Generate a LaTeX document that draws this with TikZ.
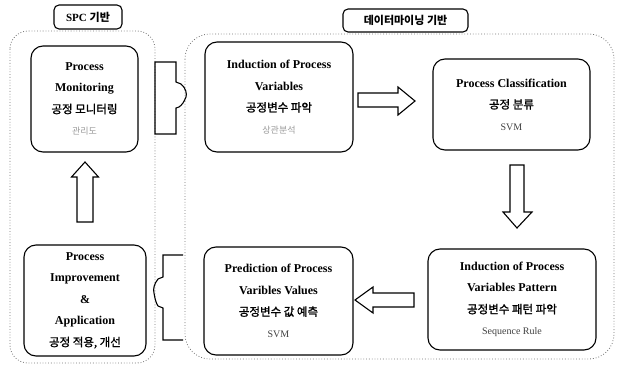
\documentclass[tikz,border=0pt]{standalone}
\usepackage{fontspec}
\setmainfont{Liberation Serif}
\newfontfamily\kr{Noto Sans CJK KR}
\newfontfamily\krb[FakeBold=1.5]{Noto Sans CJK KR}
\newcommand\ko[1]{{\krb\mdseries\fontsize{11.5}{22}\selectfont #1}}
\newcommand\gr[1]{{\kr\mdseries\fontsize{9}{24}\selectfont\color{black!40}#1}}
\newcommand\rg[1]{{\mdseries\fontsize{10}{22}\selectfont\color{black!75}#1}}
\begin{document}
\begin{tikzpicture}[x=1pt,y=-1pt,
  box/.style={draw=black, line width=1.1pt, rounded corners=12pt, align=center, inner sep=0pt,
    font=\fontsize{12}{21.5}\selectfont\bfseries},
  container/.style={draw=black!55, dotted, line width=0.8pt},
  tag/.style={draw=black, fill=white, rounded corners=5pt, line width=1.1pt, inner sep=0pt,
    font=\bfseries\fontsize{11}{13}\selectfont},
  blk/.style={draw=black, fill=white, line width=1.1pt, line join=miter}]
\useasboundingbox (0,0) rectangle (619,369);
% containers
\draw[container, rounded corners=18pt] (10,31) rectangle (155,363);
\draw[container, rounded corners=25pt] (185,34) rectangle (614,359);
% tags
\node[tag, minimum width=68pt, minimum height=24pt] (spc) at (88,17)
  {SPC {\kr 기반}};
\node[tag, minimum width=125pt, minimum height=23pt] (dm) at (405.5,20.5)
  {\kr 데이터마이닝 기반};
% boxes
\node[box, minimum width=107pt, minimum height=106pt] (mon) at (84.5,99)
  {Process\\Monitoring\\\ko{공정 모니터링}\\\gr{관리도}};
\node[box, minimum width=122pt, minimum height=111pt] (imp) at (85,300.5)
  {Process\\Improvement\\\&\\Application\\\ko{공정 적용, 개선}};
\node[box, minimum width=148pt, minimum height=110pt] (ind) at (279,97)
  {Induction of Process\\Variables\\\ko{공정변수 파악}\\\gr{상관분석}};
\node[box, minimum width=157pt, minimum height=91pt] (cls) at (511.5,104.5)
  {Process Classification\\\ko{공정 분류}\\\rg{SVM}};
\node[box, minimum width=168pt, minimum height=101pt] (pat) at (512,299.5)
  {Induction of Process\\Variables Pattern\\\ko{공정변수 패턴 파악}\\\rg{Sequence Rule}};
\node[box, minimum width=149pt, minimum height=108pt] (pred) at (278.5,301)
  {Prediction of Process\\Varibles Values\\\ko{공정변수 값 예측}\\\rg{SVM}};
% block arrows
\draw[blk] (77,222) -- (77,177) -- (71.5,177) -- (85,162) -- (98.5,177) -- (93,177) -- (93,222) -- cycle;
\draw[blk] (358,93) -- (398,93) -- (398,87) -- (415,101) -- (398,115) -- (398,107) -- (358,107) -- cycle;
\draw[blk] (510,165) -- (510,212) -- (503,212) -- (517,228) -- (532,212) -- (524,212) -- (524,165) -- cycle;
\draw[blk] (414,293) -- (373,293) -- (373,287) -- (355,300) -- (373,313) -- (373,307) -- (414,307) -- cycle;
% link arrows between containers
\draw[blk, fill=none] (155,62) -- (176,62) -- (176,82) -- (181,84)
  .. controls (186,88) and (187,94) .. (186,97)
  .. controls (184,102) and (182,105) .. (179,107) -- (176,108) -- (176,134) -- (155,134) -- cycle;
\draw[blk, fill=none] (183,255) -- (163,255) -- (163,277) -- (158,279)
  .. controls (154,284) and (153,289) .. (154,293)
  .. controls (155,299) and (156,303) .. (158,306) -- (163,308) -- (163,340) -- (183,340);
\end{tikzpicture}
\end{document}
